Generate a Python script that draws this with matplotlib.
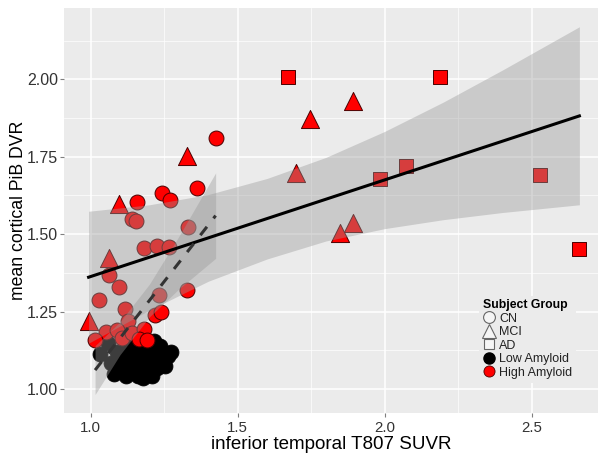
import numpy as np
import matplotlib
matplotlib.use('Agg')
import matplotlib.pyplot as plt
from matplotlib.lines import Line2D

plt.rcParams['font.family'] = ['Liberation Sans', 'DejaVu Sans']

# Low amyloid (all CN circles)
low_cn_x = [1.032, 1.060, 1.070, 1.090, 1.080, 1.104, 1.121, 1.107, 1.128, 1.145,
            1.161, 1.138, 1.155, 1.175, 1.192, 1.209, 1.168, 1.189, 1.206, 1.226,
            1.243, 1.263, 1.219, 1.199, 1.236, 1.124, 1.151, 1.182, 1.226, 1.253,
            1.178, 1.100, 1.141, 1.216, 1.274]
low_cn_y = [1.114, 1.150, 1.085, 1.121, 1.050, 1.063, 1.043, 1.102, 1.082, 1.056,
            1.043, 1.121, 1.095, 1.075, 1.056, 1.043, 1.127, 1.108, 1.089, 1.069,
            1.102, 1.108, 1.134, 1.147, 1.140, 1.143, 1.143, 1.140, 1.111, 1.075,
            1.037, 1.082, 1.072, 1.156, 1.118]

# High amyloid
high_cn_x = [1.426, 1.363, 1.244, 1.270, 1.159, 1.140, 1.155, 1.331, 1.180, 1.225,
             1.268, 1.061, 1.097, 1.027, 1.327, 1.231, 1.117, 1.219, 1.239, 1.126,
             1.053, 1.015, 1.089, 1.106, 1.140, 1.183, 1.163, 1.191]
high_cn_y = [1.810, 1.650, 1.634, 1.609, 1.604, 1.550, 1.542, 1.524, 1.456, 1.461,
             1.458, 1.367, 1.330, 1.289, 1.321, 1.305, 1.259, 1.240, 1.248, 1.219,
             1.183, 1.157, 1.192, 1.165, 1.181, 1.194, 1.162, 1.157]
high_mci_x = [1.327, 1.098, 1.064, 0.993, 1.891, 1.746, 1.698, 1.891, 1.849]
high_mci_y = [1.753, 1.596, 1.424, 1.220, 1.931, 1.871, 1.697, 1.537, 1.505]
high_ad_x = [1.672, 2.189, 1.985, 2.073, 2.529, 2.662]
high_ad_y = [2.008, 2.008, 1.678, 1.720, 1.690, 1.451]

# fitted lines and confidence bands
fit_x = [0.993, 2.662]
fit_y = [1.361, 1.882]
band_x = [0.993, 1.2, 1.4, 1.6, 1.8, 2.0, 2.2, 2.4, 2.662]
band_hi = [1.574, 1.595, 1.628, 1.680, 1.748, 1.832, 1.927, 2.030, 2.170]
band_lo = [1.148, 1.255, 1.348, 1.420, 1.478, 1.518, 1.547, 1.570, 1.595]

cn_fit_x = [1.015, 1.425]
cn_fit_y = [1.061, 1.560]
cn_band_x = [1.015, 1.1, 1.2, 1.3, 1.425]
cn_band_hi = [1.140, 1.217, 1.339, 1.493, 1.698]
cn_band_lo = [0.982, 1.111, 1.233, 1.323, 1.422]

RED = '#FF0000'
RED_EDGE = '#4a0000'

fig = plt.figure(figsize=(6.0, 4.54), dpi=100)
ax = fig.add_axes([0.107, 0.090, 0.890, 0.892])
ax.set_facecolor('#EBEBEB')

ax.set_xlim(0.91, 2.726)
ax.set_ylim(0.922, 2.23)
ax.set_xticks([1.0, 1.5, 2.0, 2.5])
ax.set_xticks([1.25, 1.75, 2.25], minor=True)
ax.set_yticks([1.00, 1.25, 1.50, 1.75, 2.00])
ax.set_yticks([1.125, 1.375, 1.625, 1.875, 2.125], minor=True)
ax.set_xticklabels(['1.0', '1.5', '2.0', '2.5'])
ax.set_yticklabels(['1.00', '1.25', '1.50', '1.75', '2.00'])
ax.grid(which='major', color='white', linewidth=1.1)
ax.grid(which='minor', color='white', linewidth=0.5)
ax.set_axisbelow(True)
for s in ax.spines.values():
    s.set_visible(False)
ax.tick_params(which='major', length=3, color='#7F7F7F', labelcolor='#333333', pad=1.5)
ax.tick_params(axis='x', labelsize=10.8, pad=2.5)
ax.tick_params(axis='y', labelsize=11.5)
ax.tick_params(which='minor', length=0)

# points
ax.scatter(low_cn_x, low_cn_y, s=115, marker='o', c='black', edgecolors='black',
           linewidths=0.6, zorder=2)
ax.scatter(high_cn_x, high_cn_y, s=115, marker='o', c=RED, edgecolors=RED_EDGE,
           linewidths=0.7, zorder=2)
ax.scatter(high_mci_x, high_mci_y, s=170, marker='^', c=RED, edgecolors=RED_EDGE,
           linewidths=0.7, zorder=2)
ax.scatter(high_ad_x, high_ad_y, s=90, marker='s', c=RED, edgecolors=RED_EDGE,
           linewidths=0.7, zorder=2)

# bands over the points, as in the original
ax.fill_between(band_x, band_lo, band_hi, color='#999999', alpha=0.4, linewidth=0, zorder=3)
ax.fill_between(cn_band_x, cn_band_lo, cn_band_hi, color='#999999', alpha=0.4, linewidth=0, zorder=3)
ax.plot(fit_x, fit_y, color='black', linewidth=2.2, zorder=4)
ax.plot(cn_fit_x, cn_fit_y, color='#333333', linewidth=2.2, dashes=(3.5, 3.5), zorder=4)

ax.set_xlabel('inferior temporal T807 SUVR', fontsize=13.5, labelpad=1)
ax.set_ylabel('mean cortical PiB DVR', fontsize=12.7, labelpad=0)

handles = [
    Line2D([], [], linestyle='none', marker='o', markersize=8.5, markerfacecolor='#F5F5F5',
           markeredgecolor='#666666', markeredgewidth=0.8),
    Line2D([], [], linestyle='none', marker='^', markersize=10, markerfacecolor='#F5F5F5',
           markeredgecolor='#666666', markeredgewidth=0.8),
    Line2D([], [], linestyle='none', marker='s', markersize=7, markerfacecolor='#F5F5F5',
           markeredgecolor='#666666', markeredgewidth=0.8),
    Line2D([], [], linestyle='none', marker='o', markersize=8, markerfacecolor='black',
           markeredgecolor='black'),
    Line2D([], [], linestyle='none', marker='o', markersize=8, markerfacecolor=RED,
           markeredgecolor=RED_EDGE, markeredgewidth=0.6),
]
labels = ['CN', 'MCI', 'AD', 'Low Amyloid', 'High Amyloid']
leg = ax.legend(handles, labels, title='Subject Group', loc='lower left',
                bbox_to_anchor=(0.765, 0.06), frameon=True, facecolor='#EBEBEB',
                edgecolor='none', framealpha=1, fontsize=9, title_fontsize=8.8,
                handlelength=1.0, handletextpad=0.3, labelspacing=0.12,
                borderpad=0.3, alignment='left')
leg.get_title().set_fontweight('bold')
leg.set_zorder(5)
for t in leg.get_texts():
    t.set_color('#222222')

fig.savefig('out.png', dpi=100)
